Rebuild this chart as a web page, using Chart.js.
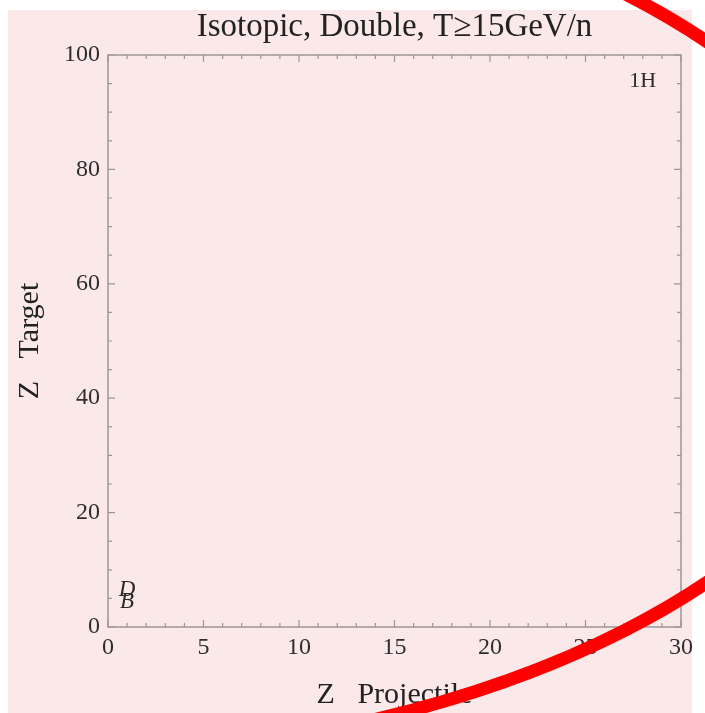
<!DOCTYPE html>
<html>
<head>
<meta charset="utf-8">
<script src="https://cdn.jsdelivr.net/npm/chart.js@4"></script>
<style>
  html, body { margin: 0; padding: 0; background: #fff; }
  #wrap { width: 705px; height: 713px; }
</style>
</head>
<body>
<div id="wrap"><canvas id="chart" width="705" height="713"></canvas></div>
<script>
// axis ranges and tick labels
const xTicks = [0, 5, 10, 15, 20, 25, 30];
const yTicks = [0, 20, 40, 60, 80, 100];

// text marks placed in data coordinates
const markText = ['D', 'B'];
const markX = [1.0, 1.0];
const markY = [6.4, 4.3];

const plotLabel = ['1H'];
const plotLabelX = [28.0];
const plotLabelY = [95.5];

const serif = '"Liberation Serif", "DejaVu Serif", serif';

// pink panel, frame with inward ticks, text marks, red annotation
const decorations = {
    id: 'decorations',
    beforeDraw(chart) {
        const ctx = chart.ctx;
        ctx.save();
        ctx.fillStyle = 'rgb(251,232,233)';
        ctx.fillRect(8, 10, 684, 703);
        ctx.restore();
    },
    afterDatasetsDraw(chart) {
        const ctx = chart.ctx;
        const area = chart.chartArea;
        const xs = chart.scales.x, ys = chart.scales.y;
        ctx.save();
        ctx.strokeStyle = '#9d9697';
        ctx.lineWidth = 1.5;
        ctx.strokeRect(area.left, area.top, area.right - area.left, area.bottom - area.top);

        ctx.lineWidth = 1.2;
        ctx.beginPath();
        for (let v = 0; v <= 30; v++) {
            const px = xs.getPixelForValue(v);
            const len = v % 5 === 0 ? 7 : 4;
            ctx.moveTo(px, area.bottom); ctx.lineTo(px, area.bottom - len);
            ctx.moveTo(px, area.top); ctx.lineTo(px, area.top + len);
        }
        for (let v = 0; v <= 100; v += 5) {
            const py = ys.getPixelForValue(v);
            const len = v % 20 === 0 ? 7 : 4;
            ctx.moveTo(area.left, py); ctx.lineTo(area.left + len, py);
            ctx.moveTo(area.right, py); ctx.lineTo(area.right - len, py);
        }
        ctx.stroke();

        // text marks from dataset points
        chart.data.datasets.forEach((ds, i) => {
            const meta = chart.getDatasetMeta(i);
            ctx.font = ds.textFont;
            ctx.fillStyle = '#2a2a2a';
            ctx.textAlign = 'center';
            ctx.textBaseline = 'middle';
            meta.data.forEach((pt, j) => {
                ctx.fillText(ds.texts[j], pt.x, pt.y);
            });
        });
        ctx.restore();
    },
    afterDraw(chart) {
        // hand-drawn red ring over the figure
        const ctx = chart.ctx;
        ctx.save();
        ctx.strokeStyle = '#ff0000';
        ctx.lineWidth = 13;
        ctx.beginPath();
        ctx.ellipse(0, 312, 884, 450, 0, 0, Math.PI * 2);
        ctx.stroke();
        ctx.restore();
    }
};

new Chart(document.getElementById('chart'), {
    type: 'scatter',
    data: {
        datasets: [{
            data: markX.map((x, i) => ({ x: x, y: markY[i] })),
            texts: markText,
            textFont: 'italic 23px ' + serif,
            pointRadius: 0
        }, {
            data: plotLabelX.map((x, i) => ({ x: x, y: plotLabelY[i] })),
            texts: plotLabel,
            textFont: '22px ' + serif,
            pointRadius: 0
        }]
    },
    options: {
        responsive: false,
        animation: false,
        layout: { padding: { left: 0, right: 24, top: 0, bottom: 0 } },
        plugins: {
            legend: { display: false },
            tooltip: { enabled: false },
            title: {
                display: true,
                text: 'Isotopic, Double, T\u226515GeV/n',
                fullSize: false,
                color: '#222',
                font: { family: serif, size: 33, weight: 'normal' },
                padding: { top: 8, bottom: 7.4 }
            }
        },
        scales: {
            x: {
                type: 'linear',
                min: 0, max: 30,
                afterFit(scale) { scale.height = 86; },
                afterBuildTicks(scale) { scale.ticks = xTicks.map(v => ({ value: v })); },
                grid: { display: false, drawTicks: false },
                border: { display: false },
                ticks: { color: '#2e2e2e', padding: 6, font: { family: serif, size: 24 } },
                title: {
                    display: true,
                    text: 'Z   Projectile',
                    color: '#222',
                    font: { family: serif, size: 30 },
                    padding: { top: 0, bottom: 0 }
                }
            },
            y: {
                type: 'linear',
                min: 0, max: 100,
                afterFit(scale) { scale.width = 108; },
                afterBuildTicks(scale) { scale.ticks = yTicks.map(v => ({ value: v })); },
                grid: { display: false, drawTicks: false },
                border: { display: false },
                ticks: { color: '#2e2e2e', padding: 8, font: { family: serif, size: 24 } },
                title: {
                    display: true,
                    text: 'Z   Target',
                    color: '#222',
                    font: { family: serif, size: 30 },
                    padding: { top: 12, bottom: 0 }
                }
            }
        }
    },
    plugins: [decorations]
});
</script>
</body>
</html>
